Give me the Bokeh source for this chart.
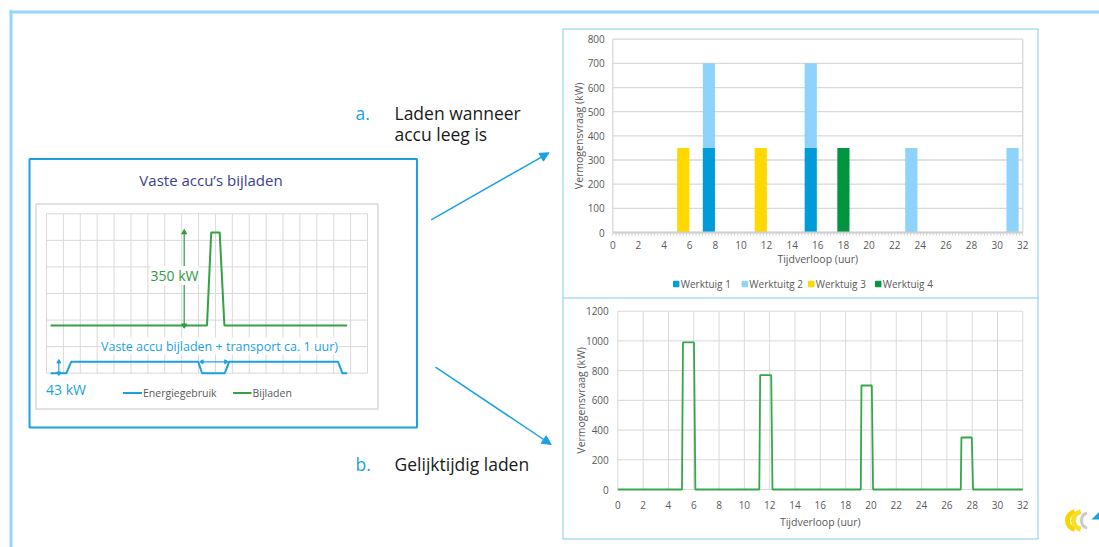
from math import pi

from bokeh.core.properties import value
from bokeh.embed import file_html
from bokeh.models import Arrow, NormalHead, Range1d
from bokeh.plotting import figure
from bokeh.resources import INLINE

FONT = "Open Sans"

# ---------------- data ----------------
# scenario a: charging demand per machine (kW) at the hour it is charged
uren_ticks = list(range(0, 33, 2))
kw_ticks_a = list(range(0, 801, 100))
kw_ticks_b = list(range(0, 1201, 200))

w1_tijd = [7.5, 15.45]
w1_kw = [350, 350]
w2_tijd = [7.5, 15.45, 23.3, 31.2]
w2_kw = [350, 350, 350, 350]
w3_tijd = [5.5, 11.55]
w3_kw = [350, 350]
w4_tijd = [18.0]
w4_kw = [350]

legend_labels = ["Werktuig 1", "Werktuitg 2", "Werktuig 3", "Werktuig 4"]

# scenario b: simultaneous charging, total demand (kW)
b_tijd = [0, 5.07, 5.15, 6.02, 6.13, 11.18, 11.25, 12.12, 12.22,
          19.2, 19.25, 20.07, 20.17, 27.1, 27.15, 27.97, 28.07, 32]
b_kw = [0, 0, 990, 990, 0, 0, 770, 770, 0,
        0, 700, 700, 0, 0, 350, 350, 0, 0]

# schematic of the fixed battery (kW, time in grid columns)
energie_x = [0.24, 1.18, 1.46, 8.98, 9.21, 10.55, 10.81, 17.26, 17.51, 17.8]
energie_kw = [0, 0, 43, 43, 0, 0, 43, 43, 0, 0]
bijladen_x = [0.24, 9.5, 9.75, 10.25, 10.53, 17.8]
bijladen_kw = [180, 180, 530, 530, 180, 180]
bijladen_piek = 350
energie_niveau = 43

# ---------------- colours ----------------
C_W1 = "#009BD9"
C_W2 = "#8ED3FC"
C_W3 = "#FFD800"
C_W4 = "#00953F"
C_LINE_B = "#34A84B"
C_AXIS_TXT = "#595959"
C_GRID = "#D9D9D9"
C_BLUE = "#1BA1E2"
C_SLIDE = "#90D6FF"
C_BOX = "#80CDEB"

p = figure(width=1099, height=547, x_range=Range1d(0, 1099), y_range=Range1d(547, 0),
           min_border=0, x_axis_location=None, y_axis_location=None,
           toolbar_location=None, output_backend="svg", outline_line_color=None)
p.grid.visible = False
p.background_fill_color = "white"
p.border_fill_color = "white"


def txt(api, x, y, texts, size, color, align="left", baseline="middle",
        angle=0.0, x_off=0, y_off=0, **kw):
    api.text(x=x, y=y, text=texts, text_font=value(FONT), text_font_size=size,
             text_color=color, text_align=align, text_baseline=baseline,
             angle=angle, x_offset=x_off, y_offset=y_off, **kw)


# ---------------- slide frame ----------------
p.segment(x0=[9], y0=[11.5], x1=[1099], y1=[11.5], line_color=C_SLIDE, line_width=3)
p.segment(x0=[10.5], y0=[10], x1=[10.5], y1=[547], line_color=C_SLIDE, line_width=3)

# chart boxes on the right
p.quad(left=[562.5], right=[1037.5], top=[28.5], bottom=[538.5],
       fill_color=None, line_color=C_BOX, line_width=1)
p.segment(x0=[562.5], y0=[297.5], x1=[1037.5], y1=[297.5], line_color=C_BOX, line_width=1)

# ---------------- left schematic ----------------
p.quad(left=[29], right=[416.5], top=[158.5], bottom=[427], fill_color=None,
       line_color=C_BLUE, line_width=2)
p.quad(left=[35.5], right=[377.5], top=[203.5], bottom=[408.5], fill_color=None,
       line_color=C_GRID, line_width=1.5)
txt(p, [210.5], [179], ["Vaste accu’s bijladen"], "15px", "#3B3E8E", align="center")

sch = p.subplot(x_source=Range1d(0, 19), y_source=Range1d(0, 600),
                x_target=Range1d(46, 367), y_target=Range1d(372.7, 213.3))
cols = list(range(0, 20))
rows = list(range(0, 601, 100))
sch.segment(x0=cols, y0=[0] * len(cols), x1=cols, y1=[600] * len(cols),
            line_color=C_GRID, line_width=1)
sch.segment(x0=[0] * len(rows), y0=rows, x1=[19] * len(rows), y1=rows,
            line_color=C_GRID, line_width=1)
sch.line(x=bijladen_x, y=bijladen_kw, line_color="#36A047", line_width=2)
sch.line(x=energie_x, y=energie_kw, line_color=C_BLUE, line_width=2)

# 350 kW double arrow
base = bijladen_kw[0]
sch.segment(x0=[8.15], y0=[base], x1=[8.15], y1=[base + bijladen_piek],
            line_color="#2E9B3E", line_width=1.2)
sch.scatter(x=[8.15], y=[base + bijladen_piek], marker="triangle", size=5, color="#2E9B3E")
sch.scatter(x=[8.15], y=[base], marker="inverted_triangle", size=5, color="#2E9B3E")
# 43 kW double arrow
sch.segment(x0=[0.73], y0=[0], x1=[0.73], y1=[energie_niveau], line_color=C_BLUE, line_width=1.2)
sch.scatter(x=[0.73], y=[energie_niveau], marker="triangle", size=4, color=C_BLUE)
sch.scatter(x=[0.73], y=[0], marker="inverted_triangle", size=4, color=C_BLUE)
# charging + transport window
sch.segment(x0=[9.2], y0=[energie_niveau], x1=[10.62], y1=[energie_niveau],
            line_color=C_BLUE, line_width=1.2)
sch.scatter(x=[9.2, 10.62], y=[energie_niveau] * 2, marker="triangle", size=4,
            color=C_BLUE, angle=[pi / 2, -pi / 2])

txt(p, [198], [275], ["350 kW"], "14px", "#2E9B3E", align="right",
    background_fill_color="white")
txt(p, [219], [345.5], ["Vaste accu bijladen + transport ca. 1 uur)"], "12.5px", C_BLUE,
    align="center", background_fill_color="white")
txt(p, [45.5], [389], ["43 kW"], "14px", C_BLUE)

# schematic legend
p.segment(x0=[122.5, 232.5], y0=[392.5, 392.5], x1=[141.5, 251], y1=[392.5, 392.5],
          line_color=[C_BLUE, "#36A047"], line_width=2)
txt(p, [142.5, 252], [392.5, 392.5], ["Energiegebruik", "Bijladen"], "10.5px", C_AXIS_TXT)

# ---------------- slide texts and arrows ----------------
txt(p, [355, 355], [112.5, 463], ["a.", "b."], "17.5px", C_BLUE)
txt(p, [394, 394, 394], [112.5, 133.5, 463],
    ["Laden wanneer", "accu leeg is", "Gelijktijdig laden"], "17.5px", "#1A1A1A")
for (xs, ys, xe, ye) in [(430.7, 219.3, 548.5, 152.3), (435, 366.7, 550.7, 444)]:
    p.add_layout(Arrow(x_start=xs, y_start=ys, x_end=xe, y_end=ye, line_color=C_BLUE,
                       line_width=1.5,
                       end=NormalHead(size=9, fill_color=C_BLUE, line_color=C_BLUE)))

# ---------------- chart a: stacked columns ----------------
ca = p.subplot(x_source=Range1d(0, 32), y_source=Range1d(0, 800),
               x_target=Range1d(612.3, 1022.3), y_target=Range1d(232, 38.7))
ca.segment(x0=[0] * len(kw_ticks_a), y0=kw_ticks_a, x1=[32] * len(kw_ticks_a), y1=kw_ticks_a,
           line_color=C_GRID, line_width=1.3)
ca.segment(x0=[0, 32], y0=[0, 0], x1=[0, 32], y1=[800, 800], line_color=C_GRID, line_width=1.3)

bar_w = 0.95
w2_bottom = [w1_kw[w1_tijd.index(t)] if t in w1_tijd else 0 for t in w2_tijd]
w2_top = [b + v for b, v in zip(w2_bottom, w2_kw)]
ca.vbar(x=w1_tijd, top=w1_kw, bottom=0, width=bar_w, fill_color=C_W1, line_color=None)
ca.vbar(x=w2_tijd, top=w2_top, bottom=w2_bottom, width=bar_w, fill_color=C_W2, line_color=None)
ca.vbar(x=w3_tijd, top=w3_kw, bottom=0, width=bar_w, fill_color=C_W3, line_color=None)
ca.vbar(x=w4_tijd, top=w4_kw, bottom=0, width=bar_w, fill_color=C_W4, line_color=None)

# x axis line with fine tick marks below it
minor = [i * 0.25 for i in range(0, 129)]
ca.segment(x0=minor, y0=[0] * len(minor), x1=minor, y1=[-13] * len(minor),
           line_color="#D4D4D4", line_width=1)
ca.segment(x0=[0], y0=[0], x1=[32], y1=[0], line_color="#D0D0D0", line_width=2)

txt(ca, uren_ticks, [0] * len(uren_ticks), [str(t) for t in uren_ticks], "10px",
    C_AXIS_TXT, align="center", y_off=12)
txt(ca, [0] * len(kw_ticks_a), kw_ticks_a, [str(v) for v in kw_ticks_a], "10px",
    C_AXIS_TXT, align="right", x_off=-8)
txt(ca, [16], [0], ["Tijdverloop (uur)"], "10.5px", C_AXIS_TXT, align="center", y_off=26)
txt(ca, [0], [400], ["Vermogensvraag (kW)"], "10.5px", C_AXIS_TXT, align="center",
    angle=pi / 2, x_off=-34)

# legend of chart a
leg_x = [675.7, 744.3, 810.7, 877.7]
p.scatter(x=leg_x, y=[283.5] * 4, marker="square", size=5.5,
          color=[C_W1, C_W2, C_W3, C_W4])
txt(p, [x + 4.5 for x in leg_x], [283.5] * 4, legend_labels, "10px", C_AXIS_TXT)

# ---------------- chart b: simultaneous charging ----------------
cb = p.subplot(x_source=Range1d(0, 32), y_source=Range1d(0, 1200),
               x_target=Range1d(617.3, 1022.3), y_target=Range1d(489, 310.7))
cb.segment(x0=uren_ticks, y0=[0] * len(uren_ticks), x1=uren_ticks, y1=[1200] * len(uren_ticks),
           line_color=C_GRID, line_width=1)
cb.segment(x0=[0] * len(kw_ticks_b), y0=kw_ticks_b, x1=[32] * len(kw_ticks_b), y1=kw_ticks_b,
           line_color=C_GRID, line_width=1)
cb.line(x=b_tijd, y=b_kw, line_color=C_LINE_B, line_width=1.8)

txt(cb, uren_ticks, [0] * len(uren_ticks), [str(t) for t in uren_ticks], "10px",
    C_AXIS_TXT, align="center", y_off=15)
txt(cb, [0] * len(kw_ticks_b), kw_ticks_b, [str(v) for v in kw_ticks_b], "10px",
    C_AXIS_TXT, align="right", x_off=-9)
txt(cb, [16], [0], ["Tijdverloop (uur)"], "10.5px", C_AXIS_TXT, align="center", y_off=32.5)
txt(cb, [0], [600], ["Vermogensvraag (kW)"], "10.5px", C_AXIS_TXT, align="center",
    angle=pi / 2, x_off=-37)

# ---------------- logo ----------------
p.arc(x=[1076, 1082], y=[520, 520], radius=[9, 9], start_angle=pi / 2 + 0.2,
      end_angle=3 * pi / 2 - 0.2, line_color=["#F4D600", "#F7DE2A"], line_width=5)
p.arc(x=[1089], y=[520], radius=[8], start_angle=pi / 2 + 0.3, end_angle=3 * pi / 2 - 0.3,
      line_color="#C9C9C9", line_width=3)
p.patch(x=[1091, 1099, 1099], y=[519, 511, 519], fill_color=C_BLUE, line_color=None)

open("out.html", "w").write(file_html(p, INLINE))
